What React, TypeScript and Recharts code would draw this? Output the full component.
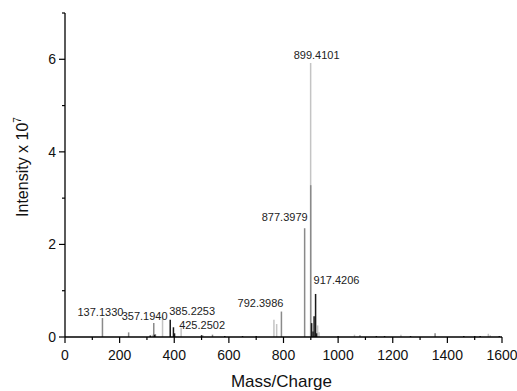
import { ComposedChart, Bar, XAxis, YAxis, LabelList } from 'recharts'

// peaks, split by shade as they appear in the spectrum (intensity in units of 1e7)
const lightMz = [320, 357.194, 425.2502, 505, 765, 775, 899.4101, 925, 930, 1060, 1230, 1550, 1557]
const lightIntensity = [0.05, 0.47, 0.2, 0.04, 0.37, 0.28, 5.92, 0.25, 0.1, 0.05, 0.05, 0.07, 0.04]

const midMz = [137.133, 233, 325, 331, 540, 792.3986, 877.3979, 899.6, 1080, 1355]
const midIntensity = [0.41, 0.1, 0.3, 0.06, 0.05, 0.55, 2.35, 3.28, 0.04, 0.08]

const darkMz = [312, 328, 385.2253, 397, 401, 500, 585, 650, 700, 903, 908, 912, 917.4206, 921, 1000, 1140, 1170, 1265, 1460, 1500, 1520, 1590]
const darkIntensity = [0.03, 0.05, 0.37, 0.21, 0.08, 0.04, 0.02, 0.02, 0.02, 0.3, 0.12, 0.45, 0.93, 0.08, 0.02, 0.02, 0.02, 0.02, 0.02, 0.02, 0.02, 0.02]

const labelMz = [137.133, 357.194, 385.2253, 425.2502, 792.3986, 877.3979, 899.4101, 917.4206]
const labelText = ['137.1330', '357.1940', '385.2253', '425.2502', '792.3986', '877.3979', '899.4101', '917.4206']

const xTicks = [0, 100, 200, 300, 400, 500, 600, 700, 800, 900, 1000, 1100, 1200, 1300, 1400, 1500, 1600]
const yTicks = [0, 1, 2, 3, 4, 5, 6, 7]

// where each peak label sits relative to its peak top
const labelPlace: Record<string, { anchor: 'start' | 'middle' | 'end'; dx: number; dy: number }> = {
  '137.1330': { anchor: 'middle', dx: -2, dy: -2 },
  '357.1940': { anchor: 'end', dx: 5, dy: 5 },
  '385.2253': { anchor: 'start', dx: -1, dy: -5 },
  '425.2502': { anchor: 'start', dx: -2, dy: 1 },
  '792.3986': { anchor: 'end', dx: 2, dy: -5 },
  '877.3979': { anchor: 'end', dx: 3, dy: -7 },
  '899.4101': { anchor: 'middle', dx: 6, dy: -4 },
  '917.4206': { anchor: 'start', dx: -2, dy: -10 },
}

type Row = { mz: number; light?: number; mid?: number; dark?: number; tag?: string }

const rows: Row[] = []
lightMz.forEach((m, i) => rows.push({ mz: m, light: lightIntensity[i] }))
midMz.forEach((m, i) => rows.push({ mz: m, mid: midIntensity[i] }))
darkMz.forEach((m, i) => rows.push({ mz: m, dark: darkIntensity[i] }))
rows.forEach((r) => {
  const k = labelMz.findIndex((v) => Math.abs(v - r.mz) < 0.001)
  if (k >= 0) r.tag = labelText[k]
})
rows.sort((a, b) => a.mz - b.mz)

const FONT = '"Liberation Sans", Arial, sans-serif'

const peakShape = (color: string) => (props: any) => {
  const { x, y, width, height } = props
  if (!height || height <= 0 || !isFinite(y)) return <g />
  const cx = x + width / 2
  return <line x1={cx} x2={cx} y1={y} y2={y + height} stroke={color} strokeWidth={1.5} />
}

const peakLabel = (props: any) => {
  const { x, y, width, height, value } = props
  if (!value || !height || height <= 0) return null
  const p = labelPlace[value] ?? { anchor: 'middle', dx: 0, dy: -4 }
  return (
    <text x={x + width / 2 + p.dx} y={y + p.dy} textAnchor={p.anchor} fontSize={11} fontFamily={FONT} fill="#222">
      {value}
    </text>
  )
}

const XTick = (props: any) => {
  const { x, y, payload } = props
  const major = payload.value % 200 === 0
  return (
    <g>
      <line x1={x} x2={x} y1={y} y2={y + (major ? 6 : 3)} stroke="#000" strokeWidth={1.2} />
      {major && (
        <text x={x} y={y + 23} textAnchor="middle" fontSize={14} fontFamily={FONT} fill="#111">
          {payload.value}
        </text>
      )}
    </g>
  )
}

const YTick = (props: any) => {
  const { x, y, payload } = props
  const major = payload.value % 2 === 0 && payload.value < 7
  return (
    <g>
      <line x1={x - (major ? 6 : 3)} x2={x} y1={y} y2={y} stroke="#000" strokeWidth={1.2} />
      {major && (
        <text x={x - 9} y={y + 5} textAnchor="end" fontSize={14} fontFamily={FONT} fill="#111">
          {payload.value}
        </text>
      )}
    </g>
  )
}

const YLabel = (props: any) => {
  const vb = props.viewBox
  const cx = vb.x + 28
  const cy = vb.y + vb.height / 2 - 8
  return (
    <text x={cx} y={cy} transform={`rotate(-90 ${cx} ${cy})`} textAnchor="middle" fontSize={16} fontFamily={FONT} fill="#111">
      Intensity x 10
      <tspan fontSize={10} dy={-7}>7</tspan>
    </text>
  )
}

const XLabel = (props: any) => {
  const vb = props.viewBox
  return (
    <text x={vb.x + vb.width / 2 - 2} y={vb.y + 50} textAnchor="middle" fontSize={17} fontFamily={FONT} fill="#111">
      Mass/Charge
    </text>
  )
}

export default function App() {
  return (
    <div style={{ position: 'absolute', left: 0, top: 0, background: '#fff' }}>
      <ComposedChart width={517} height={391} data={rows} margin={{ top: 13, right: 15, bottom: 0, left: 0 }} barGap={0}>
        <XAxis
          dataKey="mz"
          type="number"
          domain={[0, 1600]}
          ticks={xTicks}
          interval={0}
          height={54}
          tickSize={0}
          tickMargin={0}
          tick={<XTick />}
          axisLine={{ stroke: '#000', strokeWidth: 1.3 }}
          label={<XLabel />}
        />
        <YAxis
          type="number"
          domain={[0, 7]}
          ticks={yTicks}
          interval={0}
          width={65}
          tickSize={0}
          tickMargin={0}
          tick={<YTick />}
          axisLine={{ stroke: '#000', strokeWidth: 1.3 }}
          label={<YLabel />}
        />
        <Bar dataKey="light" isAnimationActive={false} shape={peakShape('#c4c4c4')}>
          <LabelList dataKey="tag" content={peakLabel} />
        </Bar>
        <Bar dataKey="mid" isAnimationActive={false} shape={peakShape('#8a8a8a')}>
          <LabelList dataKey="tag" content={peakLabel} />
        </Bar>
        <Bar dataKey="dark" isAnimationActive={false} shape={peakShape('#1a1a1a')}>
          <LabelList dataKey="tag" content={peakLabel} />
        </Bar>
      </ComposedChart>
    </div>
  )
}
